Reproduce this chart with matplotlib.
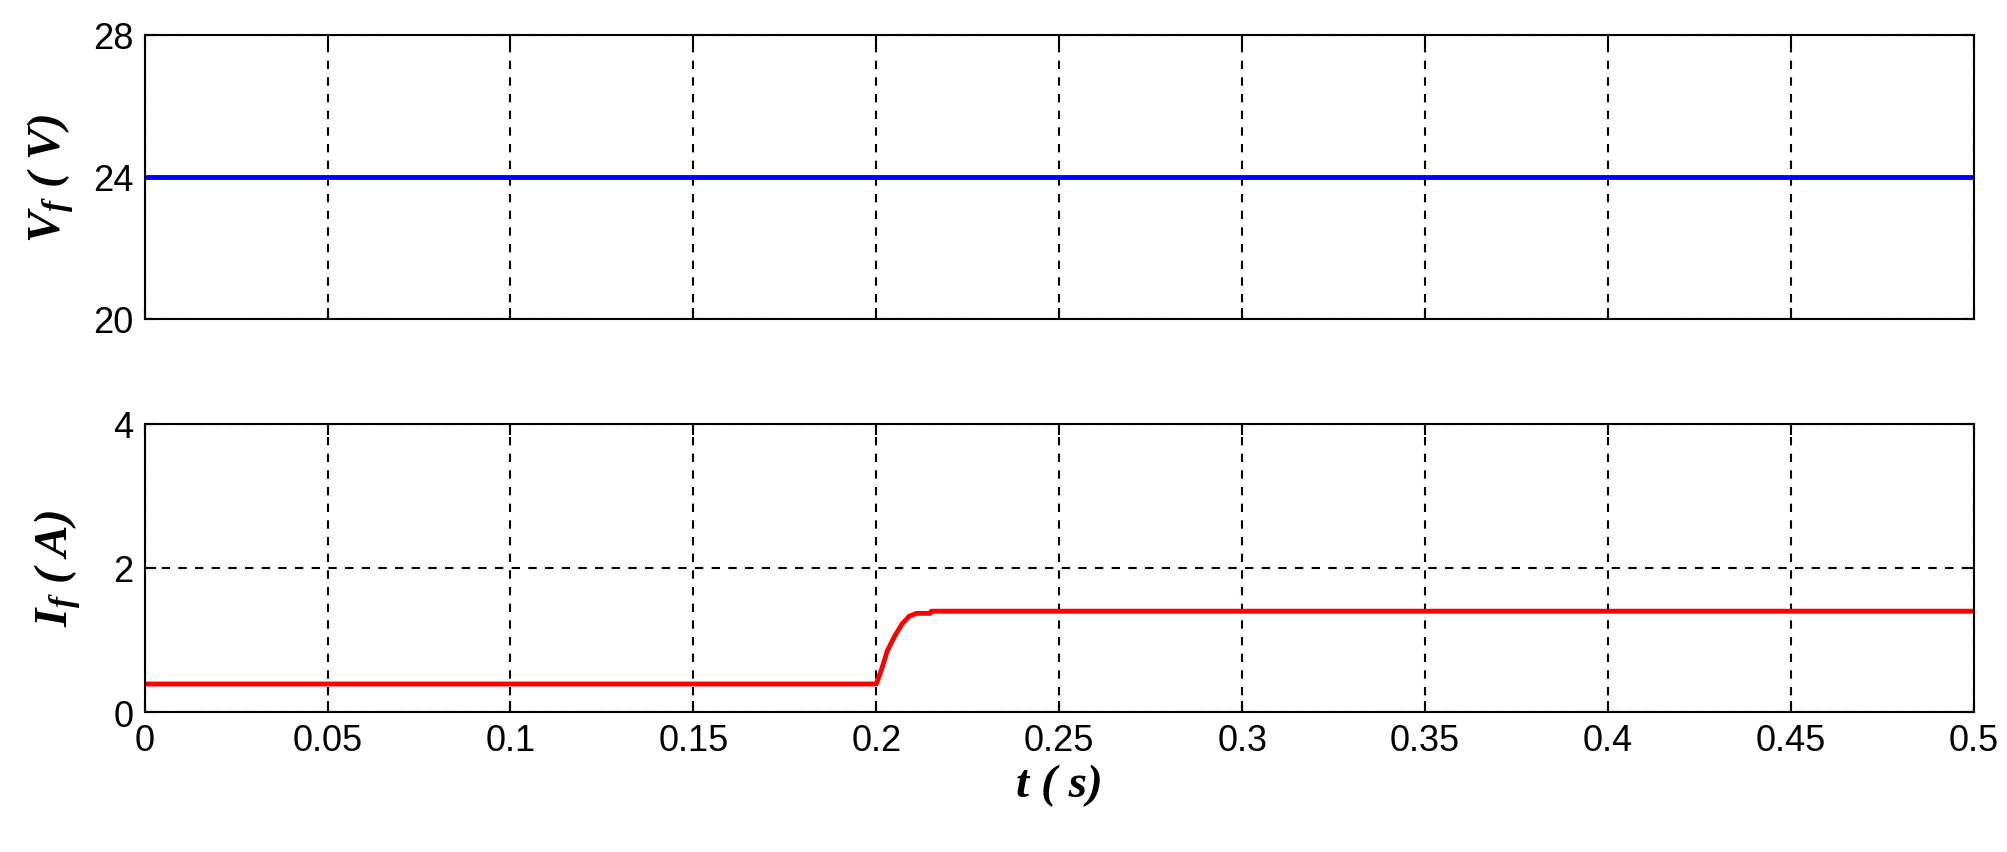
import matplotlib
matplotlib.use("Agg")
import matplotlib.pyplot as plt

t_v = [0.0, 0.5]
v_f = [24.0, 24.0]
t_i = [0.0, 0.2, 0.2015, 0.203, 0.205, 0.207, 0.209, 0.211, 0.2148, 0.215, 0.5]
i_f = [0.39, 0.39, 0.6, 0.85, 1.05, 1.22, 1.33, 1.37, 1.37, 1.40, 1.40]
xticks = [0, 0.05, 0.1, 0.15, 0.2, 0.25, 0.3, 0.35, 0.4, 0.45, 0.5]
xticklabels = ["0", "0.05", "0.1", "0.15", "0.2", "0.25", "0.3", "0.35", "0.4", "0.45", "0.5"]

plt.rcParams['font.family'] = ['Liberation Sans', 'DejaVu Sans']
plt.rcParams['mathtext.fontset'] = 'custom'
plt.rcParams['mathtext.it'] = 'Liberation Serif:italic:bold'
fig = plt.figure(figsize=(20.08, 8.53), dpi=100)
ax1 = fig.add_axes([0.072, 0.625, 0.911, 0.333])
ax2 = fig.add_axes([0.072, 0.164, 0.911, 0.338])

ax1.plot(t_v, v_f, color='#0000ff', lw=3.5)
ax2.plot(t_i, i_f, color='#ff0000', lw=3.5)

for ax, yt in [(ax1, [20, 24, 28]), (ax2, [0, 2, 4])]:
    ax.set_xlim(0, 0.5)
    ax.set_ylim(yt[0], yt[-1])
    ax.set_yticks(yt)
    ax.set_xticks(xticks)
    ax.grid(True, color='black', linestyle=(0, (4, 4)), lw=1.5)
    ax.tick_params(direction='in', length=8, width=1.5, labelsize=26, pad=8, top=True, right=True)
    for s in ax.spines.values():
        s.set_linewidth(1.5)
ax1.set_xticklabels([])
ax2.set_xticklabels(xticklabels)

lab = dict(fontsize=34, fontweight='bold', style='italic', family=['Liberation Serif', 'DejaVu Serif'])
ax1.set_ylabel('V$_f$ ( V)', labelpad=12, **lab)
ax2.set_ylabel('I$_f$ ( A)', labelpad=22, **lab)
ax2.set_xlabel('t ( s)', **lab)
fig.savefig('out.png', dpi=100)
